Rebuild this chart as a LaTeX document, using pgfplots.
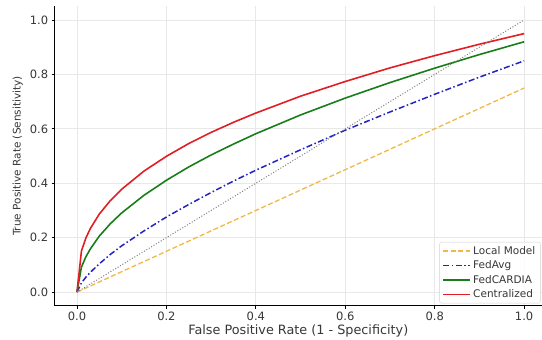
\documentclass[border=0pt]{standalone}
\usepackage{pgfplots}
\pgfplotsset{compat=1.18}
\usepackage{fontspec}
\setmainfont{DejaVu Sans}
\definecolor{txt}{RGB}{55,55,55}
\definecolor{cred}{RGB}{225,30,35}
\definecolor{cgreen}{RGB}{25,125,25}
\definecolor{cblue}{RGB}{35,35,195}
\definecolor{corange}{RGB}{240,185,70}
\definecolor{cgrid}{RGB}{232,232,232}
\begin{document}
\begin{tikzpicture}
\begin{axis}[
  name=ax,
  scale only axis,
  width=487.2pt, height=299.2pt,
  xmin=-0.05, xmax=1.04, ymin=-0.05, ymax=1.05,
  axis x line*=bottom, axis y line*=left,
  axis line style={black, line width=0.9pt},
  xtick={0,0.2,0.4,0.6,0.8,1.0},
  ytick={0,0.2,0.4,0.6,0.8,1.0},
  xticklabel style={/pgf/number format/.cd, fixed, fixed zerofill, precision=1},
  yticklabel style={/pgf/number format/.cd, fixed, fixed zerofill, precision=1},
  /pgf/number format/assume math mode=true,
  tick label style={font=\fontsize{11.5}{13}\selectfont, text=txt},
  tick align=outside,
  major tick length=3pt,
  tick style={black, line width=0.8pt},
  grid=major,
  major grid style={cgrid, line width=0.7pt},
  xlabel={False Positive Rate (1 - Specificity)},
  ylabel={True Positive Rate (Sensitivity)},
  xlabel style={font=\fontsize{12.8}{14}\selectfont, text=txt, yshift=3.5pt},
  ylabel style={font=\fontsize{10.5}{12}\selectfont, text=txt},
  legend style={at={(0.997,0.008)}, anchor=south east, draw=gray!35, fill=white,
    fill opacity=0.85, text opacity=1, rounded corners=2pt,
    font=\fontsize{10.5}{12}\selectfont, text=txt, row sep=1pt,
    inner xsep=3pt, inner ysep=2pt},
  legend cell align=left,
  legend image code/.code={\draw[#1] (0cm,0cm) -- (0.95cm,0cm);},
]
% Local Model
\addplot[corange, line width=1.3pt, dash pattern=on 5pt off 2.5pt] coordinates {
(0,0) (0.2,0.15) (0.4,0.30) (0.6,0.45) (0.8,0.60) (1.0,0.75)};
\addlegendentry{Local Model}
% FedAvg
\addplot[cblue, line width=1.5pt, dash pattern=on 6pt off 2.5pt on 1.5pt off 2.5pt] coordinates {
(0,0) (0.01,0.034) (0.02,0.055) (0.03,0.073) (0.05,0.104) (0.075,0.139) (0.1,0.170)
(0.15,0.225) (0.2,0.276) (0.25,0.322) (0.3,0.366) (0.35,0.408) (0.4,0.448) (0.5,0.523)
(0.6,0.595) (0.7,0.662) (0.8,0.727) (0.9,0.790) (1.0,0.850)};
\addlegendentry{FedAvg}
% FedCARDIA
\addplot[cgreen, line width=1.6pt] coordinates {
(0,0) (0.01,0.092) (0.02,0.130) (0.03,0.159) (0.05,0.206) (0.075,0.252) (0.1,0.291)
(0.15,0.356) (0.2,0.411) (0.25,0.460) (0.3,0.504) (0.35,0.544) (0.4,0.582) (0.5,0.651)
(0.6,0.713) (0.7,0.770) (0.8,0.823) (0.9,0.873) (1.0,0.920)};
\addlegendentry{FedCARDIA}
% Centralized
\addplot[cred, line width=1.6pt] coordinates {
(0,0) (0.01,0.151) (0.02,0.199) (0.03,0.234) (0.05,0.287) (0.075,0.337) (0.1,0.378)
(0.15,0.445) (0.2,0.499) (0.25,0.546) (0.3,0.587) (0.35,0.624) (0.4,0.658) (0.5,0.720)
(0.6,0.774) (0.7,0.824) (0.8,0.869) (0.9,0.911) (1.0,0.950)};
\addlegendentry{Centralized}
% diagonal
\addplot[gray, line width=1pt, dash pattern=on 1pt off 1.8pt, forget plot] coordinates {(0,0) (1,1)};
\end{axis}
\pgfresetboundingbox
\path[use as bounding box] ([xshift=-54.6pt,yshift=-33.4pt]ax.south west) rectangle ([yshift=6.4pt]ax.north east);
\end{tikzpicture}
\end{document}
